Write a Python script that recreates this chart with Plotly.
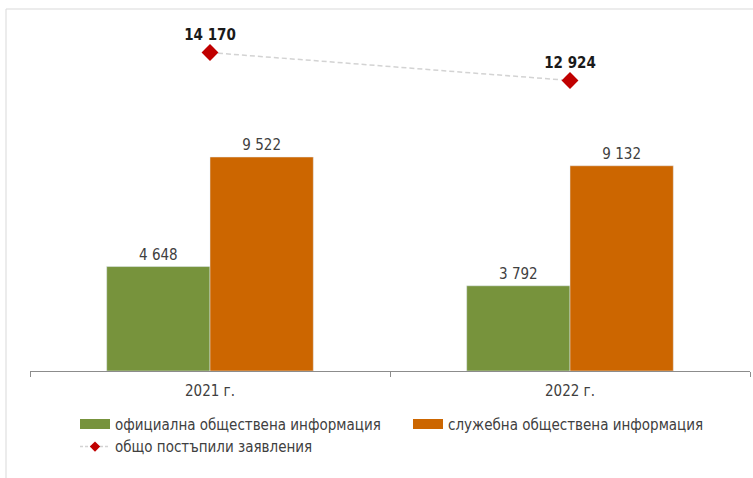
import plotly.graph_objects as go

years = ["2021 г.", "2022 г."]
official = [4648, 3792]
service = [9522, 9132]
total = [14170, 12924]

names = [
    "официална обществена информация",
    "служебна обществена информация",
    "общо постъпили заявления",
]
colors = ["#77933c", "#cc6600", "#c00000"]

FONT = "Liberation Sans Narrow, DejaVu Sans Condensed, Roboto, sans-serif"
TXT = "#404040"
DASH = "5px,3px"

fig = go.Figure()
fig.add_trace(go.Bar(
    x=years, y=official, name=names[0], marker_color=colors[0],
    texttemplate="%{y:,}", textposition="outside", cliponaxis=False,
    textfont=dict(size=15, color=TXT, family=FONT), showlegend=False,
))
fig.add_trace(go.Bar(
    x=years, y=service, name=names[1], marker_color=colors[1],
    texttemplate="%{y:,}", textposition="outside", cliponaxis=False,
    textfont=dict(size=15, color=TXT, family=FONT), showlegend=False,
))
fig.add_trace(go.Scatter(
    x=years, y=total, name=names[2], mode="lines+markers+text",
    line=dict(color="#d3d3d3", width=1.5, dash=DASH),
    marker=dict(symbol="diamond", size=13, color=colors[2]),
    texttemplate="<b>%{y:,}</b>", textposition="top center",
    textfont=dict(size=15, color="#1a1a1a", family=FONT),
    cliponaxis=False, showlegend=False,
))

# legend entries: wide swatches for the bars, small diamond on dashed line
for name, col in zip(names[:2], colors[:2]):
    fig.add_trace(go.Scatter(
        x=[None], y=[None], name=name, mode="lines",
        line=dict(color=col, width=10),
    ))
fig.add_trace(go.Scatter(
    x=[None], y=[None], name=names[2], mode="lines+markers",
    line=dict(color="#d3d3d3", width=1.5, dash="3px,2px"),
    marker=dict(symbol="diamond", size=8, color=colors[2]),
))

# plot area: x 30..750, y 20..371
ymax = 351 / (214 / 9522)

fig.update_layout(
    width=753, height=478,
    margin=dict(l=30, r=3, t=20, b=107),
    paper_bgcolor="white", plot_bgcolor="white",
    separators=". ",
    barmode="group", bargap=0.426, bargroupgap=0,
    font=dict(family=FONT, size=15, color=TXT),
    showlegend=True,
    legend=dict(
        orientation="h", x=(75 - 30) / 720, xanchor="left",
        y=-0.105, yanchor="top",
        entrywidth=288, tracegroupgap=0, traceorder="normal",
        font=dict(size=15, color=TXT, family=FONT),
    ),
    xaxis=dict(
        showline=True, linecolor="#8c8c8c", linewidth=1,
        ticks="outside", tickson="boundaries", ticklen=5, tickcolor="#8c8c8c",
        tickfont=dict(size=15, color=TXT, family=FONT),
        ticklabelstandoff=6,
        showgrid=False,
    ),
    yaxis=dict(range=[0, ymax], visible=False, showgrid=False),
    shapes=[dict(
        type="rect", xref="paper", yref="paper",
        x0=(6 - 30) / 720, x1=(760 - 30) / 720,
        y0=(371 - 490) / 351, y1=(371 - 9) / 351,
        line=dict(color="#d9d9d9", width=1), layer="below",
    )],
)

fig.write_html("out.html")
